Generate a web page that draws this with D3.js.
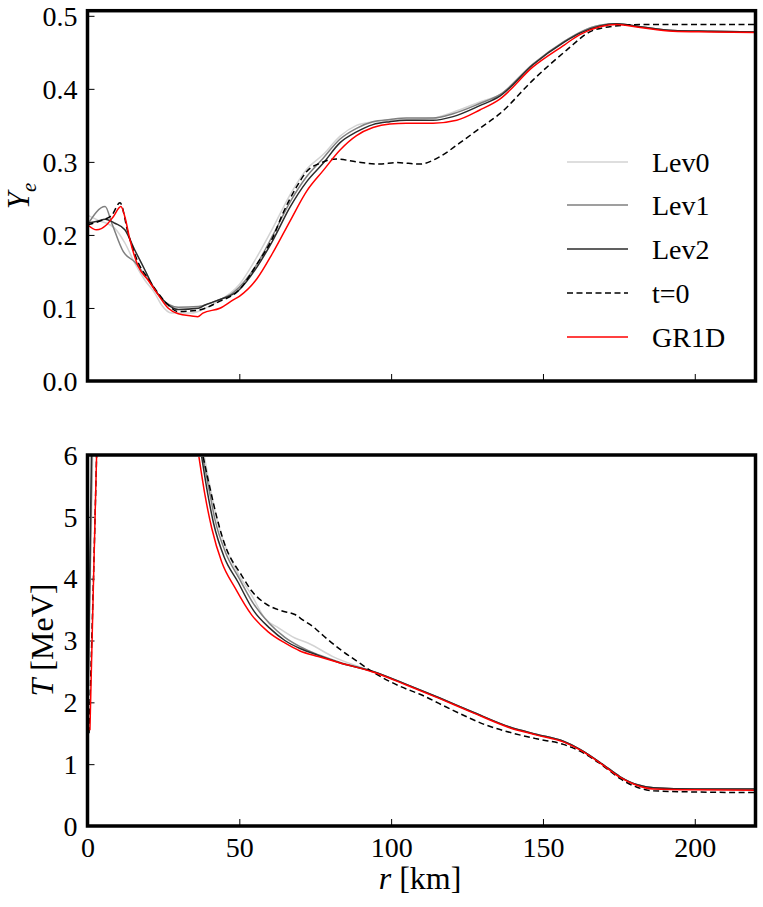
<!DOCTYPE html>
<html><head><meta charset="utf-8">
<script src="https://cdn.jsdelivr.net/npm/d3@7"></script>
<style>
html,body{margin:0;padding:0;background:#fff;}
</style></head>
<body>
<script>
// ---------------- DATA ----------------
// Top panel: electron fraction Ye vs r [km]
const yeLev0_r = [0,3.6,9,12.3,15.6,18.9,22.2,24.4,27.7,34.3,38.7,42.6,50,55.8,61.1,66.7,72.2,77.6,83.1,88.6,94,99.6,105,113.8,120.4,129.2,135.8,146.7,157,162,168.8,174.3,182,192.8,205,220];
const yeLev0   = [0.227,0.22,0.209,0.189,0.161,0.138,0.12,0.104,0.093,0.093,0.0996,0.108,0.132,0.17,0.21,0.255,0.29,0.31,0.335,0.35,0.355,0.357,0.358,0.36,0.368,0.382,0.392,0.434,0.465,0.477,0.487,0.489,0.485,0.48,0.479,0.478];

const yeLev1_r = [0,5.8,8,11.8,15.6,18.9,22.2,24.4,29.9,36.5,42.6,48,55.8,61.1,66.7,72.2,77.6,83.1,88.6,94,99.6,105,113.8,120.4,129.2,135.8,146.7,157,162,168.8,174.3,182,192.8,205,220];
const yeLev1   = [0.214,0.239,0.216,0.177,0.163,0.145,0.125,0.113,0.101,0.102,0.11,0.121,0.16,0.2,0.245,0.28,0.305,0.331,0.346,0.355,0.358,0.36,0.36,0.366,0.38,0.392,0.434,0.465,0.477,0.487,0.489,0.485,0.48,0.479,0.478];

const yeLev2_r = [0,3.5,5.8,9,12.3,15.6,18.9,22.2,24.4,29.9,36.5,38.7,42.6,50,55.8,61.1,66.7,72.2,77.6,83.1,88.6,94,99.6,105,113.8,120.4,129.2,135.8,146.7,157,162,168.8,174.3,182,192.8,205,220];
const yeLev2   = [0.216,0.219,0.2215,0.216,0.207,0.179,0.152,0.125,0.113,0.098,0.0996,0.104,0.11,0.125,0.156,0.193,0.238,0.273,0.298,0.326,0.341,0.351,0.355,0.357,0.357,0.362,0.377,0.39,0.433,0.464,0.476,0.486,0.489,0.485,0.48,0.479,0.478];

const yeT0_r = [0,4.7,8,10.7,13.4,16.7,20,23.3,26.6,29.9,36.5,43,50,55.8,61.1,64.4,68.9,72.2,76.5,82,88.6,96.3,101.8,109.5,116,122.6,129.2,135.8,146.7,157.8,165.4,172,182,200,220];
const yeT0   = [0.214,0.22,0.227,0.244,0.202,0.162,0.14,0.12,0.104,0.095,0.097,0.108,0.125,0.16,0.197,0.23,0.266,0.287,0.298,0.304,0.3,0.297,0.299,0.297,0.307,0.326,0.346,0.366,0.412,0.453,0.478,0.485,0.488,0.488,0.488];

const yeGR1D_r = [0,3,6.3,8.5,11,12.3,14,16.7,20,23.3,26.6,29.9,34.3,36.3,38,43.6,48,50,55.8,61.1,66.7,72.2,77.6,83.1,88.6,94,99.6,105,113.8,121.6,129.2,135.8,146.7,157,162,168.8,174.3,182,192.8,205,220];
const yeGR1D   = [0.214,0.207,0.214,0.225,0.239,0.225,0.193,0.157,0.138,0.118,0.0996,0.092,0.089,0.088,0.093,0.0996,0.111,0.116,0.14,0.176,0.219,0.26,0.288,0.316,0.336,0.347,0.352,0.353,0.353,0.357,0.371,0.386,0.43,0.46,0.474,0.485,0.488,0.484,0.479,0.478,0.477];

// Bottom panel: temperature T [MeV] vs r [km] (null = off the top of the axis)
const tLev0_r = [0,1.7,null,38.5,40.5,42.5,46,50,54.1,58.4,63,68.3,72.6,80.8,94,105,116,127,139,148,156.7,162.2,169.9,175.3,180.8,186.3,200,220];
const tLev0   = [1.5,6.0,null,5.97,5.45,4.98,4.45,4.05,3.73,3.36,3.2,3.04,2.96,2.74,2.5,2.29,2.07,1.84,1.6,1.48,1.37,1.24,0.99,0.8,0.67,0.62,0.6,0.6];

const tLev1_r = [0,1.5,null,38,40,42,45.5,50,54.6,60,65,70,76,83,94,105,116,127,139,148,156.7,162.2,169.9,175.3,180.8,186.3,200,220];
const tLev1   = [1.5,6.0,null,5.97,5.45,4.95,4.42,4.0,3.6,3.27,3.05,2.9,2.77,2.65,2.5,2.29,2.07,1.84,1.6,1.48,1.37,1.24,0.99,0.8,0.67,0.62,0.6,0.6];

const tLev2_r = [0,1.3,null,37.6,39.5,41.5,45,49.5,54.6,60,65,70,76,83,94,105,116,127,139,148,156.7,162.2,169.9,175.3,180.8,186.3,200,220];
const tLev2   = [1.5,6.0,null,5.97,5.4,4.9,4.35,3.95,3.49,3.2,3.0,2.87,2.76,2.64,2.5,2.29,2.07,1.84,1.6,1.48,1.37,1.24,0.99,0.8,0.67,0.62,0.6,0.6];

const tT0_r = [0.5,1.8,3.0,null,38.1,45.3,50.8,54.1,58.5,63.9,68.3,71,74.4,77.6,83.1,88.6,94,102.9,109.5,120.4,131.4,140.2,147.9,156.7,162.2,169.9,175.3,180.8,186.3,200,220];
const tT0   = [1.5,3.7,6.0,null,5.97,4.54,4.05,3.8,3.6,3.48,3.42,3.33,3.22,3.08,2.86,2.67,2.49,2.26,2.13,1.87,1.63,1.5,1.41,1.32,1.21,0.97,0.77,0.63,0.57,0.55,0.54];

const tGR1D_r = [0.8,1.9,3.0,null,36.7,38.7,40.9,44.2,48.6,54.1,59.5,65,70,76,83,94,105,116,127,139,148,156.7,162.2,169.9,175.3,180.8,186.3,200,220];
const tGR1D   = [1.55,3.8,6.0,null,5.97,5.35,4.82,4.27,3.85,3.41,3.14,2.96,2.83,2.74,2.64,2.49,2.28,2.06,1.83,1.59,1.47,1.36,1.23,0.98,0.79,0.66,0.6,0.585,0.58];

const seriesNames = ["Lev0","Lev1","Lev2","t=0","GR1D"];
const xTicks = [0,50,100,150,200];
const yeTicks = [0.0,0.1,0.2,0.3,0.4,0.5];
const tTicks = [0,1,2,3,4,5,6];

// ---------------- STYLE ----------------
const FONT = '"Liberation Serif", "Times New Roman", serif';
const styles = {
  "Lev0": {color:"#d3d3d3", dash:null},
  "Lev1": {color:"#7f7f7f", dash:null},
  "Lev2": {color:"#2b2b2b", dash:null},
  "t=0":  {color:"#000000", dash:"6,3.5"},
  "GR1D": {color:"#ff0000", dash:null}
};
const zip = (rs, vs) => rs.map((r,i)=>({r:r, v:vs[i]}));
const topSeries = {
  "Lev0": zip(yeLev0_r, yeLev0), "Lev1": zip(yeLev1_r, yeLev1), "Lev2": zip(yeLev2_r, yeLev2),
  "t=0": zip(yeT0_r, yeT0), "GR1D": zip(yeGR1D_r, yeGR1D)
};
const botSeries = {
  "Lev0": zip(tLev0_r, tLev0), "Lev1": zip(tLev1_r, tLev1), "Lev2": zip(tLev2_r, tLev2),
  "t=0": zip(tT0_r, tT0), "GR1D": zip(tGR1D_r, tGR1D)
};

const W = 763, H = 907;
const svg = d3.select("body").append("svg").attr("width", W).attr("height", H);

const x = d3.scaleLinear().domain([0,220]).range([87.5,755.5]);
const yTop = d3.scaleLinear().domain([0,0.507]).range([381,10.7]);
const yBot = d3.scaleLinear().domain([0,6]).range([826,455]);

function setFont(sel, size) {
  sel.attr("font-family", FONT).style("font-family", FONT).attr("font-size", size).attr("fill", "#000");
}

function panel(id, yScale, data, yTickVals, yFmt, showXLabels) {
  const g = svg.append("g");
  const [x0,x1] = x.range();
  const [yb,yt] = yScale.range();
  svg.append("clipPath").attr("id", id).append("rect")
    .attr("x", x0).attr("y", yt).attr("width", x1-x0).attr("height", yb-yt);
  const xAx = d3.axisBottom(x).tickValues(xTicks).tickSize(-7).tickFormat(showXLabels ? d3.format("d") : "");
  const gx = g.append("g").attr("transform", `translate(0,${yb})`).call(xAx);
  setFont(gx, 28);
  gx.select(".domain").remove();
  gx.selectAll(".tick line").attr("stroke","#000").attr("stroke-width",1);
  const gxt = gx.selectAll(".tick text").attr("y",11).attr("dy","0.71em");
  setFont(gxt, 28);
  const yAx = d3.axisLeft(yScale).tickValues(yTickVals).tickSize(-7).tickFormat(yFmt);
  const gy = g.append("g").attr("transform", `translate(${x0},0)`).call(yAx);
  setFont(gy, 28);
  gy.select(".domain").remove();
  gy.selectAll(".tick line").attr("stroke","#000").attr("stroke-width",1);
  const gyt = gy.selectAll(".tick text").attr("x",-10).attr("dy","0.33em");
  setFont(gyt, 28);
  const line = d3.line().defined(d => d.r !== null && d.v !== null)
    .x(d => x(d.r)).y(d => yScale(d.v)).curve(d3.curveMonotoneX);
  const lg = g.append("g").attr("clip-path", `url(#${id})`);
  seriesNames.forEach(n => {
    lg.append("path").datum(data[n]).attr("d", line)
      .attr("fill","none").attr("stroke", styles[n].color).attr("stroke-width",1.5)
      .attr("stroke-dasharray", styles[n].dash).attr("stroke-linejoin","round");
  });
  g.append("rect").attr("x",x0).attr("y",yt).attr("width",x1-x0).attr("height",yb-yt)
    .attr("fill","none").attr("stroke","#000").attr("stroke-width",3.5);
  return g;
}

panel("clipTop", yTop, topSeries, yeTicks, d3.format(".1f"), false);
panel("clipBot", yBot, botSeries, tTicks, d3.format("d"), true);

// axis labels
const ylab1 = svg.append("text").attr("transform","translate(29,196) rotate(-90)")
  .attr("text-anchor","middle");
setFont(ylab1, 31);
ylab1.append("tspan").attr("font-style","italic").text("Y");
ylab1.append("tspan").attr("font-style","italic").attr("font-size",21).attr("dy",7).text("e");

const ylab2 = svg.append("text").attr("transform","translate(53,640) rotate(-90)")
  .attr("text-anchor","middle");
setFont(ylab2, 32);
ylab2.append("tspan").attr("font-style","italic").text("T");
ylab2.append("tspan").text(" [MeV]");

const xlab = svg.append("text").attr("x",420).attr("y",889).attr("text-anchor","middle");
setFont(xlab, 32);
xlab.append("tspan").attr("font-style","italic").text("r");
xlab.append("tspan").text(" [km]");

// legend
const legY = [162,205,249,293,337];
const leg = svg.append("g");
seriesNames.forEach((n,i) => {
  leg.append("line").attr("x1",567).attr("x2",628).attr("y1",legY[i]).attr("y2",legY[i])
    .attr("stroke",styles[n].color).attr("stroke-width",1.5).attr("stroke-dasharray",styles[n].dash);
  const t = leg.append("text").attr("x",652).attr("y",legY[i]).attr("dy","0.35em").text(n);
  setFont(t, 28);
});
</script>
</body></html>
